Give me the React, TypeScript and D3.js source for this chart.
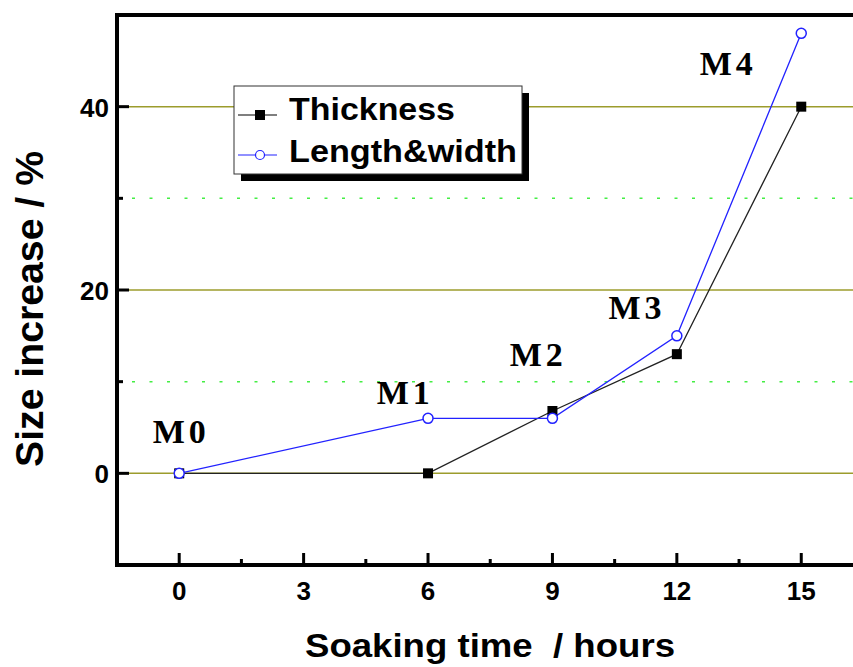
import React, { useEffect, useRef } from 'react';
import * as d3 from 'd3';

const hours = [0, 6, 9, 12, 15];
const thickness = [0, 0, 6.8, 13, 40];
const lengthWidth = [0, 6, 6, 15, 48];
const sampleLabels = ['M0', 'M1', 'M2', 'M3', 'M4'];
// label anchor positions in data units (hours, %)
const labelX = [0.05, 5.45, 8.66, 11.04, 13.24];
const labelY = [3.3, 7.6, 11.7, 16.8, 43.5];
const xTicks = [0, 3, 6, 9, 12, 15];
const yTicks = [0, 20, 40];
const yMinorTicks = [-10, 10, 30];

export default function App() {
  const svgRef = useRef<SVGSVGElement>(null);

  useEffect(() => {
    if (!svgRef.current) return;
    d3.select(svgRef.current).selectAll('*').remove();

    const W = 853, H = 667;
    const margin = { top: 15, left: 117, bottom: 102 };
    const x = d3.scaleLinear().domain([-1.5, 16.5]).range([margin.left, margin.left + 18 * 41.47]);
    const y = d3.scaleLinear().domain([-10, 50]).range([H - margin.bottom, margin.top]);

    const svg = d3.select(svgRef.current).attr('width', W).attr('height', H);
    const sans = 'Arial, "Liberation Sans", sans-serif';
    const serif = '"Times New Roman", "Liberation Serif", serif';

    // grid lines
    svg.append('g')
      .selectAll('line')
      .data(yTicks)
      .enter()
      .append('line')
      .attr('x1', x(-1.5)).attr('x2', W)
      .attr('y1', d => y(d)).attr('y2', d => y(d))
      .attr('stroke', '#9c9c2c')
      .attr('stroke-width', 1.5);

    svg.append('g')
      .selectAll('line')
      .data([10, 30])
      .enter()
      .append('line')
      .attr('x1', x(-1.5) + 15).attr('x2', W)
      .attr('y1', d => y(d)).attr('y2', d => y(d))
      .attr('stroke', '#44ee44')
      .attr('stroke-width', 1.5)
      .attr('stroke-dasharray', '3 14.5');

    // axis frame
    const x0 = x(-1.5), xR = x(16.5), yB = y(-10), yT = y(50);
    svg.append('path')
      .attr('d', `M${xR},${yT}H${x0}V${yB}H${xR}`)
      .attr('fill', 'none')
      .attr('stroke', '#000')
      .attr('stroke-width', 4);

    // x ticks (inward)
    const xMinor = d3.range(-1.5 + 3, 16.5, 3);
    svg.append('g').selectAll('line').data(xTicks).enter().append('line')
      .attr('x1', d => x(d)).attr('x2', d => x(d))
      .attr('y1', yB).attr('y2', yB - 12)
      .attr('stroke', '#000').attr('stroke-width', 3);
    svg.append('g').selectAll('line').data(xMinor).enter().append('line')
      .attr('x1', d => x(d)).attr('x2', d => x(d))
      .attr('y1', yB).attr('y2', yB - 6)
      .attr('stroke', '#000').attr('stroke-width', 3);
    svg.append('g').selectAll('text').data(xTicks).enter().append('text')
      .attr('x', d => x(d)).attr('y', yB + 35)
      .attr('text-anchor', 'middle')
      .style('font-family', sans).style('font-weight', 'bold').style('font-size', '26px')
      .text(d => d);

    // y ticks (inward)
    svg.append('g').selectAll('line').data(yTicks).enter().append('line')
      .attr('x1', x0).attr('x2', x0 + 12)
      .attr('y1', d => y(d)).attr('y2', d => y(d))
      .attr('stroke', '#000').attr('stroke-width', 3);
    svg.append('g').selectAll('line').data(yMinorTicks).enter().append('line')
      .attr('x1', x0).attr('x2', x0 + 6)
      .attr('y1', d => y(d)).attr('y2', d => y(d))
      .attr('stroke', '#000').attr('stroke-width', 3);
    svg.append('g').selectAll('text').data(yTicks).enter().append('text')
      .attr('x', x0 - 8).attr('y', d => y(d) + 10)
      .attr('text-anchor', 'end')
      .style('font-family', sans).style('font-weight', 'bold').style('font-size', '26px')
      .text(d => d);

    // axis titles
    svg.append('text')
      .attr('x', 305).attr('y', 657)
      .attr('textLength', 370)
      .attr('lengthAdjust', 'spacingAndGlyphs')
      .style('font-family', sans).style('font-weight', 'bold').style('font-size', '34px')
      .style('white-space', 'pre')
      .text('Soaking time  / hours');
    svg.append('text')
      .attr('transform', `translate(43,467) rotate(-90)`)
      .attr('textLength', 316)
      .attr('lengthAdjust', 'spacingAndGlyphs')
      .style('font-family', sans).style('font-weight', 'bold').style('font-size', '38px')
      .text('Size increase / %');

    // lines
    const line = d3.line<[number, number]>().x(d => x(d[0])).y(d => y(d[1]));
    const tData = hours.map((h, i) => [h, thickness[i]] as [number, number]);
    const lData = hours.map((h, i) => [h, lengthWidth[i]] as [number, number]);

    svg.append('path').datum(tData).attr('d', line)
      .attr('fill', 'none').attr('stroke', '#222').attr('stroke-width', 1.3);
    svg.append('path').datum(lData).attr('d', line)
      .attr('fill', 'none').attr('stroke', '#2222ff').attr('stroke-width', 1.3);

    svg.append('g').selectAll('rect').data(tData).enter().append('rect')
      .attr('x', d => x(d[0]) - 5).attr('y', d => y(d[1]) - 5)
      .attr('width', 10).attr('height', 10)
      .attr('fill', '#000');
    svg.append('g').selectAll('circle').data(lData).enter().append('circle')
      .attr('cx', d => x(d[0])).attr('cy', d => y(d[1]))
      .attr('r', 5)
      .attr('fill', '#fff').attr('stroke', '#2222ff').attr('stroke-width', 1.5);

    // sample labels
    svg.append('g').selectAll('text').data(sampleLabels).enter().append('text')
      .attr('x', (d, i) => x(labelX[i]))
      .attr('y', (d, i) => y(labelY[i]))
      .attr('text-anchor', 'middle')
      .style('font-family', serif).style('font-weight', 'bold').style('font-size', '34px')
      .style('letter-spacing', '4px')
      .text(d => d);

    // legend
    const lg = svg.append('g').attr('transform', 'translate(234,86)');
    lg.append('rect').attr('x', 7).attr('y', 7).attr('width', 288).attr('height', 88).attr('fill', '#000');
    lg.append('rect').attr('x', 0).attr('y', 0).attr('width', 288).attr('height', 88)
      .attr('fill', '#fff').attr('stroke', '#333').attr('stroke-width', 1);
    const items = [
      { name: 'Thickness', color: '#000', square: true, len: 166 },
      { name: 'Length&width', color: '#2222ff', square: false, len: 228 },
    ];
    items.forEach((it, i) => {
      const cy = 29 + i * 40;
      lg.append('line').attr('x1', 4).attr('x2', 43).attr('y1', cy).attr('y2', cy)
        .attr('stroke', it.color).attr('stroke-width', 1.2);
      if (it.square) {
        lg.append('rect').attr('x', 21).attr('y', cy - 5).attr('width', 10).attr('height', 10).attr('fill', '#000');
      } else {
        lg.append('circle').attr('cx', 26).attr('cy', cy).attr('r', 4.5)
          .attr('fill', '#fff').attr('stroke', it.color).attr('stroke-width', 1.2);
      }
      lg.append('text').attr('x', 55).attr('y', cy + 5 + i * 2)
        .attr('textLength', it.len)
        .attr('lengthAdjust', 'spacingAndGlyphs')
        .style('font-family', sans).style('font-weight', 'bold').style('font-size', '32px')
        .text(it.name);
    });
  }, []);

  return (
    <div style={{ position: 'absolute', left: 0, top: 0, width: 853, height: 667, overflow: 'hidden', background: '#fff' }}>
      <svg ref={svgRef} style={{ display: 'block' }} />
    </div>
  );
}
